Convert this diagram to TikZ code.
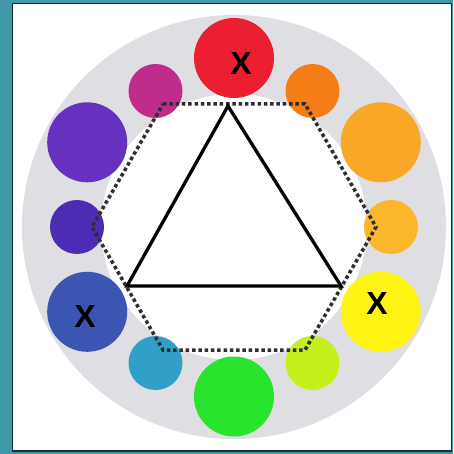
\documentclass[tikz,border=0pt]{standalone}
\usepackage{fontspec}
\setmainfont{Liberation Sans}
\definecolor{bgteal}{RGB}{62,154,168}
\definecolor{frame}{RGB}{25,40,60}
\definecolor{ring}{RGB}{222,222,227}
\definecolor{cred}{RGB}{236,30,50}
\definecolor{cmagenta}{RGB}{192,44,140}
\definecolor{corange}{RGB}{245,125,22}
\definecolor{cltorange}{RGB}{248,168,38}
\definecolor{cltorangeb}{RGB}{251,182,44}
\definecolor{cyellow}{RGB}{255,243,20}
\definecolor{cyg}{RGB}{196,240,28}
\definecolor{cgreen}{RGB}{40,228,44}
\definecolor{ccyan}{RGB}{48,160,200}
\definecolor{cblue}{RGB}{58,86,178}
\definecolor{cindigo}{RGB}{76,44,178}
\definecolor{cviolet}{RGB}{102,48,192}
\definecolor{dotc}{RGB}{45,45,50}
\tikzset{
  bigdot/.style={circle,inner sep=0pt,minimum size=80pt,fill=#1,draw=none},
  smalldot/.style={circle,inner sep=0pt,minimum size=54pt,fill=#1,draw=none},
  xmark/.style={inner sep=0pt,font=\fontsize{32}{32}\selectfont\bfseries},
  hexline/.style={draw=dotc,line width=3.5pt,dash pattern=on 3.5pt off 2.8pt},
  triline/.style={draw=black,line width=3.3pt,line join=miter}
}
\begin{document}
\begin{tikzpicture}[x=1pt,y=-1pt]
\useasboundingbox (0,0) rectangle (453,454);
\fill[bgteal] (0,0) rectangle (453,454);
\fill[white,draw=frame,line width=1.5pt] (12.5,3.5) rectangle (451.5,451);
\coordinate (c) at (234,227);
\fill[ring] (c) circle[radius=212pt];
\fill[white] (c) circle[radius=133pt];
% colour circles
\node[bigdot=cred] (red) at (234,58) {};
\node[smalldot=corange] (orange) at (312.5,91) {};
\node[bigdot=cltorange] (ltorange) at (380.8,142.3) {};
\node[smalldot=cltorangeb] (ltorangeb) at (391,227) {};
\node[bigdot=cyellow] (yellow) at (380.8,311.8) {};
\node[smalldot=cyg] (yg) at (312.5,363) {};
\node[bigdot=cgreen] (green) at (234,396.5) {};
\node[smalldot=ccyan] (cyan) at (155.5,363) {};
\node[bigdot=cblue] (blue) at (87.2,311.8) {};
\node[smalldot=cindigo] (indigo) at (77,227) {};
\node[bigdot=cviolet] (violet) at (87.2,142.3) {};
\node[smalldot=cmagenta] (magenta) at (155.5,91) {};
% hexagon
\coordinate (h1) at (163,104);
\coordinate (h2) at (305,104);
\coordinate (h3) at (376,227);
\coordinate (h4) at (305,350);
\coordinate (h5) at (163,350);
\coordinate (h6) at (92,227);
\draw[hexline] (h1) -- (h2) -- (h3) -- (h4) -- (h5) -- (h6) -- cycle;
% triangle
\coordinate (t1) at (228,106);
\coordinate (t2) at (341,286);
\coordinate (t3) at (127,286);
\draw[triline] (t1) -- (t2) -- (t3) -- cycle;
% marks
\node[xmark] (xred) at (241,63) {X};
\node[xmark] (xblue) at (85,316) {X};
\node[xmark] (xyellow) at (377,303) {X};
\end{tikzpicture}
\end{document}
